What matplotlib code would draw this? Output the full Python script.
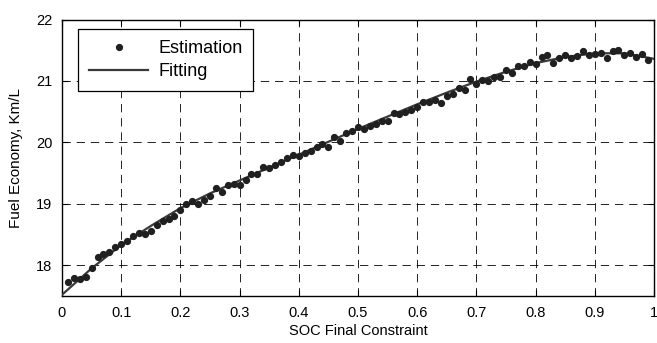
import matplotlib
matplotlib.use("Agg")
import matplotlib.pyplot as plt
import numpy as np

plt.rcParams['font.family'] = ['Liberation Sans', 'DejaVu Sans']

# Estimation points (x = 0.01 ... 0.99)
est_x = [round(0.01 * i, 2) for i in range(1, 100)]
est_y = [17.73, 17.80, 17.77, 17.81, 17.96, 18.13, 18.19, 18.22, 18.30, 18.34,
         18.40, 18.47, 18.52, 18.51, 18.56, 18.65, 18.72, 18.75, 18.81, 18.90,
         19.00, 19.05, 19.00, 19.06, 19.12, 19.25, 19.20, 19.30, 19.32, 19.30,
         19.39, 19.48, 19.49, 19.60, 19.59, 19.63, 19.68, 19.74, 19.79, 19.78,
         19.82, 19.86, 19.93, 19.98, 19.93, 20.09, 20.03, 20.15, 20.18, 20.25,
         20.21, 20.27, 20.30, 20.34, 20.35, 20.48, 20.47, 20.50, 20.53, 20.57,
         20.66, 20.66, 20.69, 20.64, 20.75, 20.79, 20.88, 20.86, 21.03, 20.95,
         21.01, 21.00, 21.06, 21.06, 21.18, 21.13, 21.24, 21.24, 21.31, 21.28,
         21.39, 21.43, 21.29, 21.38, 21.43, 21.38, 21.41, 21.48, 21.42, 21.44,
         21.45, 21.38, 21.48, 21.50, 21.42, 21.45, 21.39, 21.44, 21.34]

# Fitted curve read at 0.05 steps
fit_x = [0.00, 0.05, 0.10, 0.15, 0.20, 0.25, 0.30, 0.35, 0.40, 0.45, 0.50,
         0.55, 0.60, 0.65, 0.70, 0.75, 0.80, 0.85, 0.90, 0.95, 1.00]
fit_y = [17.52, 17.95, 18.33, 18.64, 18.93, 19.17, 19.38, 19.59, 19.80, 20.01,
         20.22, 20.42, 20.62, 20.81, 20.99, 21.15, 21.29, 21.39, 21.45, 21.45, 21.36]

x_ticks = [0, 0.1, 0.2, 0.3, 0.4, 0.5, 0.6, 0.7, 0.8, 0.9, 1]
x_tick_labels = ['0', '0.1', '0.2', '0.3', '0.4', '0.5', '0.6', '0.7', '0.8', '0.9', '1']
y_ticks = [18, 19, 20, 21, 22]

fig = plt.figure(figsize=(6.57, 3.43), dpi=100)
ax = fig.add_axes([62/657, 1 - 296/343, (654-62)/657, (296-19.5)/343])

ax.plot(fit_x, fit_y, color='#3a3a3a', lw=1.6, label='Fitting', zorder=3)
ax.plot(est_x, est_y, 'o', color='#202020', ms=4.2, mec='#202020', label='Estimation', zorder=4)

ax.set_xlim(0, 1)
ax.set_ylim(17.5, 22)
ax.set_xticks(x_ticks)
ax.set_xticklabels(x_tick_labels)
ax.set_yticks(y_ticks)
ax.tick_params(direction='in', length=4, width=0.8, top=True, right=True,
               labelsize=10.5, colors='black', pad=7)
ax.grid(True, color='black', linestyle=(0, (10, 7)), linewidth=0.6)
for s in ax.spines.values():
    s.set_linewidth(1.0)
    s.set_color('black')

ax.set_xlabel('SOC Final Constraint', fontsize=10.5, labelpad=3)
ax.set_ylabel('Fuel Economy, Km/L', fontsize=11, labelpad=9)

handles, labels = ax.get_legend_handles_labels()
leg = ax.legend(handles[::-1], labels[::-1], loc='upper left',
                bbox_to_anchor=((78-62)/592, 1 - (29-19.5)/276.5),
                fontsize=13, handlelength=3.3, fancybox=False, framealpha=1,
                edgecolor='black', borderpad=0.6, labelspacing=0.35, borderaxespad=0,
                handletextpad=0.55)
leg.get_frame().set_linewidth(0.9)

fig.savefig('out.png', dpi=100)
